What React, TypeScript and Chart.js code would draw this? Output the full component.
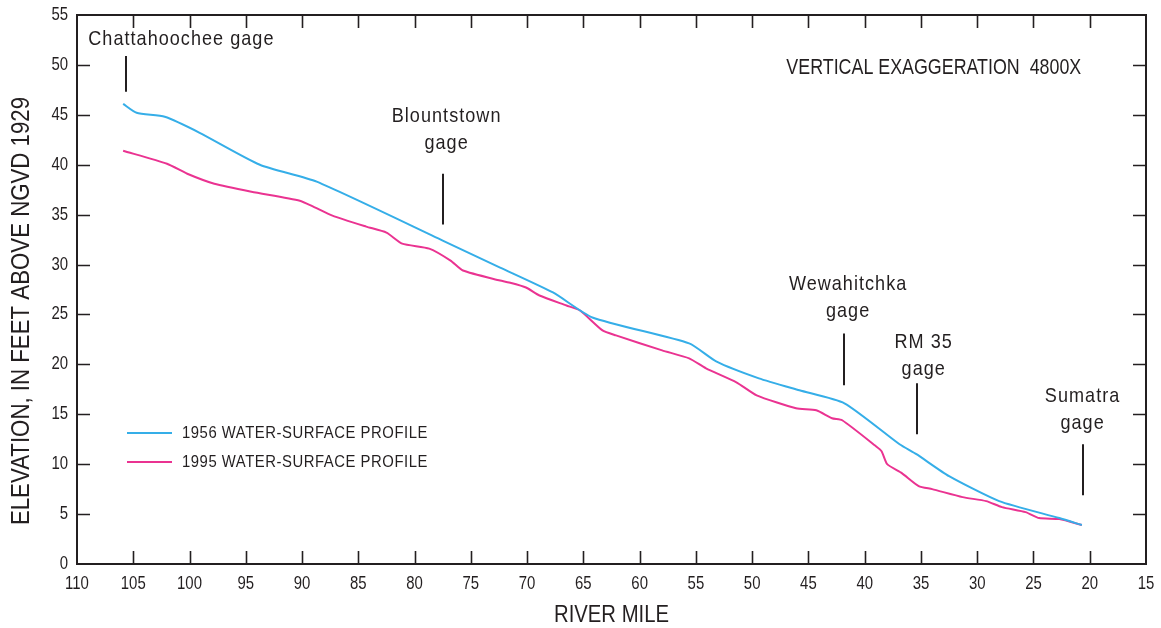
import React, { useEffect, useRef } from 'react';
import { Chart, registerables } from 'chart.js';

Chart.register(...registerables);

// ---------- data ----------
const RIVER_MILE_1956 = [105.9, 104.7, 102.2, 99.1, 93.75, 88.7, 77.5, 72.4, 67.7, 64.2, 55.6, 53.2, 49.4, 45.8, 41.8, 36.9, 35.4, 32.5, 28.05, 22.7, 20.7];
const ELEV_1956 = [46.1, 45.2, 44.8, 43.2, 40.0, 38.3, 32.4, 29.7, 27.2, 24.7, 22.1, 20.3, 18.6, 17.4, 16.1, 12.0, 11.0, 8.8, 6.3, 4.6, 3.9];

const RIVER_MILE_1995 = [105.9, 102.0, 100.2, 97.8, 94.5, 90.2, 89.0, 87.3, 84.3, 82.5, 81.1, 78.7, 76.8, 75.7, 72.4, 71.6, 70.1, 68.9, 66.5, 65.3, 63.3, 62.1, 58.0, 55.6, 54.1, 51.4, 49.6, 46.1, 44.3, 42.9, 42.0, 39.0, 38.5, 38.0, 36.7, 35.2, 34.0, 31.3, 29.2, 27.8, 25.7, 24.5, 22.7, 20.7];
const ELEV_1995 = [41.4, 40.1, 39.1, 38.1, 37.3, 36.4, 35.8, 34.9, 33.8, 33.2, 32.1, 31.6, 30.4, 29.4, 28.4, 28.2, 27.7, 26.9, 25.9, 25.4, 23.4, 22.9, 21.4, 20.6, 19.6, 18.2, 16.9, 15.6, 15.4, 14.6, 14.4, 11.8, 11.3, 10.0, 9.1, 7.8, 7.5, 6.7, 6.3, 5.7, 5.2, 4.6, 4.5, 3.9];

const SERIES_LABELS = ['1956 WATER-SURFACE PROFILE', '1995 WATER-SURFACE PROFILE'];

const X_MIN = 15;
const X_MAX = 110;
const X_STEP = 5;
const Y_MIN = 0;
const Y_MAX = 55;
const Y_STEP = 5;

const X_TITLE = 'RIVER MILE';
const Y_TITLE = 'ELEVATION, IN FEET ABOVE NGVD 1929';
const NOTE_TEXT = 'VERTICAL EXAGGERATION  4800X';
const NOTE_MILE = 46.96;
const NOTE_ELEV = 49.66;

const GAGE_NAMES = [['Chattahoochee gage'], ['Blountstown', 'gage'], ['Wewahitchka', 'gage'], ['RM 35', 'gage'], ['Sumatra', 'gage']];
const GAGE_MILES = [105.65, 77.45, 41.87, 35.37, 20.57];
const GAGE_LINE_TOP = [50.9, 39.1, 23.1, 18.1, 12.0];
const GAGE_LINE_BOTTOM = [47.3, 34.0, 17.9, 13.0, 6.9];
const GAGE_LABEL_MILES = [100.77, 77.2, 41.52, 34.8, 20.68];
const GAGE_LABEL_ELEV = [52.6, 44.9, 28.05, 22.24, 16.8];

// ---------- style ----------
const W = 1161;
const H = 628;
const INK = '#231f20';
const BLUE = '#35aee8';
const PINK = '#ea3391';
const SANS = '"Liberation Sans", Arial, Helvetica, sans-serif';

type TextOpts = { size: number; sx: number; ls?: number; align?: CanvasTextAlign; rotate?: number };

function drawText(ctx: CanvasRenderingContext2D, text: string, x: number, y: number, o: TextOpts) {
  ctx.save();
  ctx.translate(x, y);
  if (o.rotate) ctx.rotate(o.rotate);
  ctx.scale(o.sx, 1);
  ctx.font = `${o.size}px ${SANS}`;
  (ctx as any).letterSpacing = `${o.ls || 0}px`;
  ctx.textAlign = o.align || 'left';
  ctx.textBaseline = 'middle';
  ctx.fillStyle = INK;
  let dx = 0;
  if (o.ls && (o.align === 'center')) dx = o.ls / 2;
  if (o.ls && (o.align === 'right')) dx = o.ls;
  ctx.fillText(text, dx, 0);
  ctx.restore();
}

const framePlugin = {
  id: 'frameAndNotes',
  afterDraw(chart: any) {
    const { ctx, chartArea, scales } = chart;
    const { left, right, top, bottom } = chartArea;
    const x = scales.x;
    const y = scales.y;
    ctx.save();

    // frame
    ctx.strokeStyle = INK;
    ctx.lineWidth = 2;
    ctx.strokeRect(left, top, right - left, bottom - top);

    // inward ticks on all four sides
    const TICK = 13;
    ctx.lineWidth = 1.6;
    ctx.beginPath();
    x.ticks.forEach((t: any) => {
      const px = Math.round(x.getPixelForValue(t.value)) + 0.5;
      if (px <= left + 2 || px >= right - 2) return;
      ctx.moveTo(px, bottom);
      ctx.lineTo(px, bottom - TICK);
      ctx.moveTo(px, top);
      ctx.lineTo(px, top + TICK);
    });
    y.ticks.forEach((t: any) => {
      const py = Math.round(y.getPixelForValue(t.value)) + 0.5;
      if (py <= top + 2 || py >= bottom - 2) return;
      ctx.moveTo(left, py);
      ctx.lineTo(left + TICK, py);
      ctx.moveTo(right, py);
      ctx.lineTo(right - TICK, py);
    });
    ctx.stroke();

    // tick labels (condensed look)
    x.ticks.forEach((t: any) => {
      drawText(ctx, String(t.value), x.getPixelForValue(t.value), bottom + 20, { size: 18, sx: 0.83, align: 'center' });
    });
    y.ticks.forEach((t: any) => {
      drawText(ctx, String(t.value), left - 9, y.getPixelForValue(t.value), { size: 18, sx: 0.83, align: 'right' });
    });

    // axis titles
    drawText(ctx, X_TITLE, (left + right) / 2, bottom + 51, { size: 24, sx: 0.845, align: 'center' });
    drawText(ctx, Y_TITLE, 22.5, 311, { size: 25, sx: 0.89, align: 'center', rotate: -Math.PI / 2 });

    // gage markers
    ctx.strokeStyle = INK;
    ctx.lineWidth = 2;
    ctx.beginPath();
    GAGE_MILES.forEach((m, i) => {
      const px = Math.round(x.getPixelForValue(m));
      ctx.moveTo(px, y.getPixelForValue(GAGE_LINE_TOP[i]));
      ctx.lineTo(px, y.getPixelForValue(GAGE_LINE_BOTTOM[i]));
    });
    ctx.stroke();

    GAGE_NAMES.forEach((lines, i) => {
      const px = x.getPixelForValue(GAGE_LABEL_MILES[i]);
      const py = y.getPixelForValue(GAGE_LABEL_ELEV[i]);
      lines.forEach((s, j) => drawText(ctx, s, px, py + j * 27, { size: 21, sx: 0.86, ls: 1.2, align: 'center' }));
    });

    // note
    drawText(ctx, NOTE_TEXT, x.getPixelForValue(NOTE_MILE), y.getPixelForValue(NOTE_ELEV), { size: 21.5, sx: 0.83 });

    // legend
    const lx = left + 50;
    const ly = top + 418;
    chart.data.datasets.forEach((ds: any, i: number) => {
      const yy = ly + i * 29;
      ctx.strokeStyle = ds.borderColor;
      ctx.lineWidth = 2;
      ctx.beginPath();
      ctx.moveTo(lx, yy);
      ctx.lineTo(lx + 45, yy);
      ctx.stroke();
      drawText(ctx, ds.label, lx + 55, yy, { size: 16.5, sx: 0.9, ls: 0.6 });
    });

    ctx.restore();
  },
};

export default function App() {
  const ref = useRef<HTMLCanvasElement | null>(null);

  useEffect(() => {
    document.body.style.margin = '0';
    const canvas = ref.current;
    if (!canvas) return;
    const toPts = (xs: number[], ys: number[]) => xs.map((v, i) => ({ x: v, y: ys[i] }));
    const chart = new Chart(canvas, {
      type: 'line',
      data: {
        datasets: [
          {
            label: SERIES_LABELS[0],
            data: toPts(RIVER_MILE_1956, ELEV_1956),
            borderColor: BLUE,
            borderWidth: 2,
            pointRadius: 0,
            tension: 0.2,
            fill: false,
          },
          {
            label: SERIES_LABELS[1],
            data: toPts(RIVER_MILE_1995, ELEV_1995),
            borderColor: PINK,
            borderWidth: 2,
            pointRadius: 0,
            tension: 0.2,
            fill: false,
          },
        ],
      },
      options: {
        responsive: false,
        animation: false,
        devicePixelRatio: 1,
        layout: { padding: { top: 15, right: 15, left: 0, bottom: 0 } },
        plugins: { legend: { display: false }, tooltip: { enabled: false } },
        scales: {
          x: {
            type: 'linear',
            reverse: true,
            min: X_MIN,
            max: X_MAX,
            grid: { display: false, drawTicks: false },
            border: { display: false },
            ticks: { stepSize: X_STEP, autoSkip: false, maxRotation: 0, display: false },
            afterFit: (s: any) => {
              s.height = H - 564;
            },
          },
          y: {
            type: 'linear',
            min: Y_MIN,
            max: Y_MAX,
            grid: { display: false, drawTicks: false },
            border: { display: false },
            ticks: { stepSize: Y_STEP, display: false },
            afterFit: (s: any) => {
              s.width = 77;
            },
          },
        },
      },
      plugins: [framePlugin],
    } as any);
    return () => chart.destroy();
  }, []);

  return (
    <div style={{ position: 'fixed', left: 0, top: 0, width: W, height: H, background: '#fff' }}>
      <canvas ref={ref} width={W} height={H} style={{ display: 'block', width: W, height: H }} />
    </div>
  );
}
